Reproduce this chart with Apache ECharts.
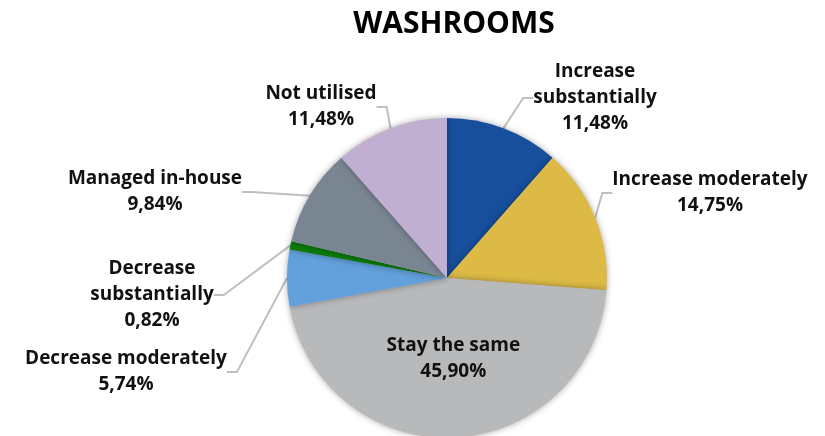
<!DOCTYPE html>
<html>
<head>
<meta charset="utf-8">
<script src="https://cdn.jsdelivr.net/npm/echarts@6/dist/echarts.min.js"></script>
<style>
  html, body { margin: 0; padding: 0; background: #fff; }
  #chart { width: 825px; height: 436px; }
</style>
</head>
<body>
<div id="chart"></div>
<script>
// data
const categories = [
  'Increase\nsubstantially',
  'Increase moderately',
  'Stay the same',
  'Decrease moderately',
  'Decrease\nsubstantially',
  'Managed in-house',
  'Not utilised',
]
const values = [11.48, 14.75, 45.9, 5.74, 0.82, 9.84, 11.48]
const colors = ['#174f9c', '#dcba45', '#b8b9bb', '#62a0dc', '#0b7a0b', '#7a8592', '#c0afd0']

// label anchor spots (layout only)
const labelSpots = [
  { x: 595, y: 98 },
  { x: 710, y: 193 },
  null,
  { x: 126, y: 372 },
  { x: 152, y: 295 },
  { x: 155, y: 192 },
  { x: 321, y: 107 },
]

const chart = echarts.init(document.getElementById('chart'))

const fmt = (v) => v.toFixed(2).replace('.', ',') + '%'

chart.setOption({
  animation: false,
  title: {
    text: 'WASHROOMS',
    left: 449,
    top: 4,
    textAlign: 'center',
    textStyle: {
      fontFamily: 'Open Sans',
      fontWeight: 'bold',
      fontSize: 30,
      color: '#000',
    },
  },
  series: [
    {
      type: 'pie',
      center: [447, 278],
      radius: 160,
      startAngle: 90,
      clockwise: true,
      data: categories.map((name, i) => ({
        name: name,
        value: values[i],
        itemStyle: { color: colors[i] },
        label: i === 2 ? { position: 'inside', offset: [2, -2] } : {},
      })),
      itemStyle: {
        shadowBlur: 6,
        shadowColor: 'rgba(0,0,0,0.35)',
      },
      label: {
        show: true,
        formatter: (p) => p.name + '\n' + fmt(p.value),
        fontFamily: 'Open Sans',
        fontWeight: 'bold',
        fontSize: 19,
        lineHeight: 26,
        color: '#111',
        align: 'center',
        overflow: 'none',
      },
      labelLine: {
        show: true,
        length: 15,
        length2: 10,
        lineStyle: { color: '#bfbfbf', width: 2 },
      },
      labelLayout: (params) => {
        const s = labelSpots[params.dataIndex]
        if (!s) return {}
        return { x: s.x, y: s.y, align: 'center', verticalAlign: 'middle' }
      },
    },
  ],
})
</script>
</body>
</html>
